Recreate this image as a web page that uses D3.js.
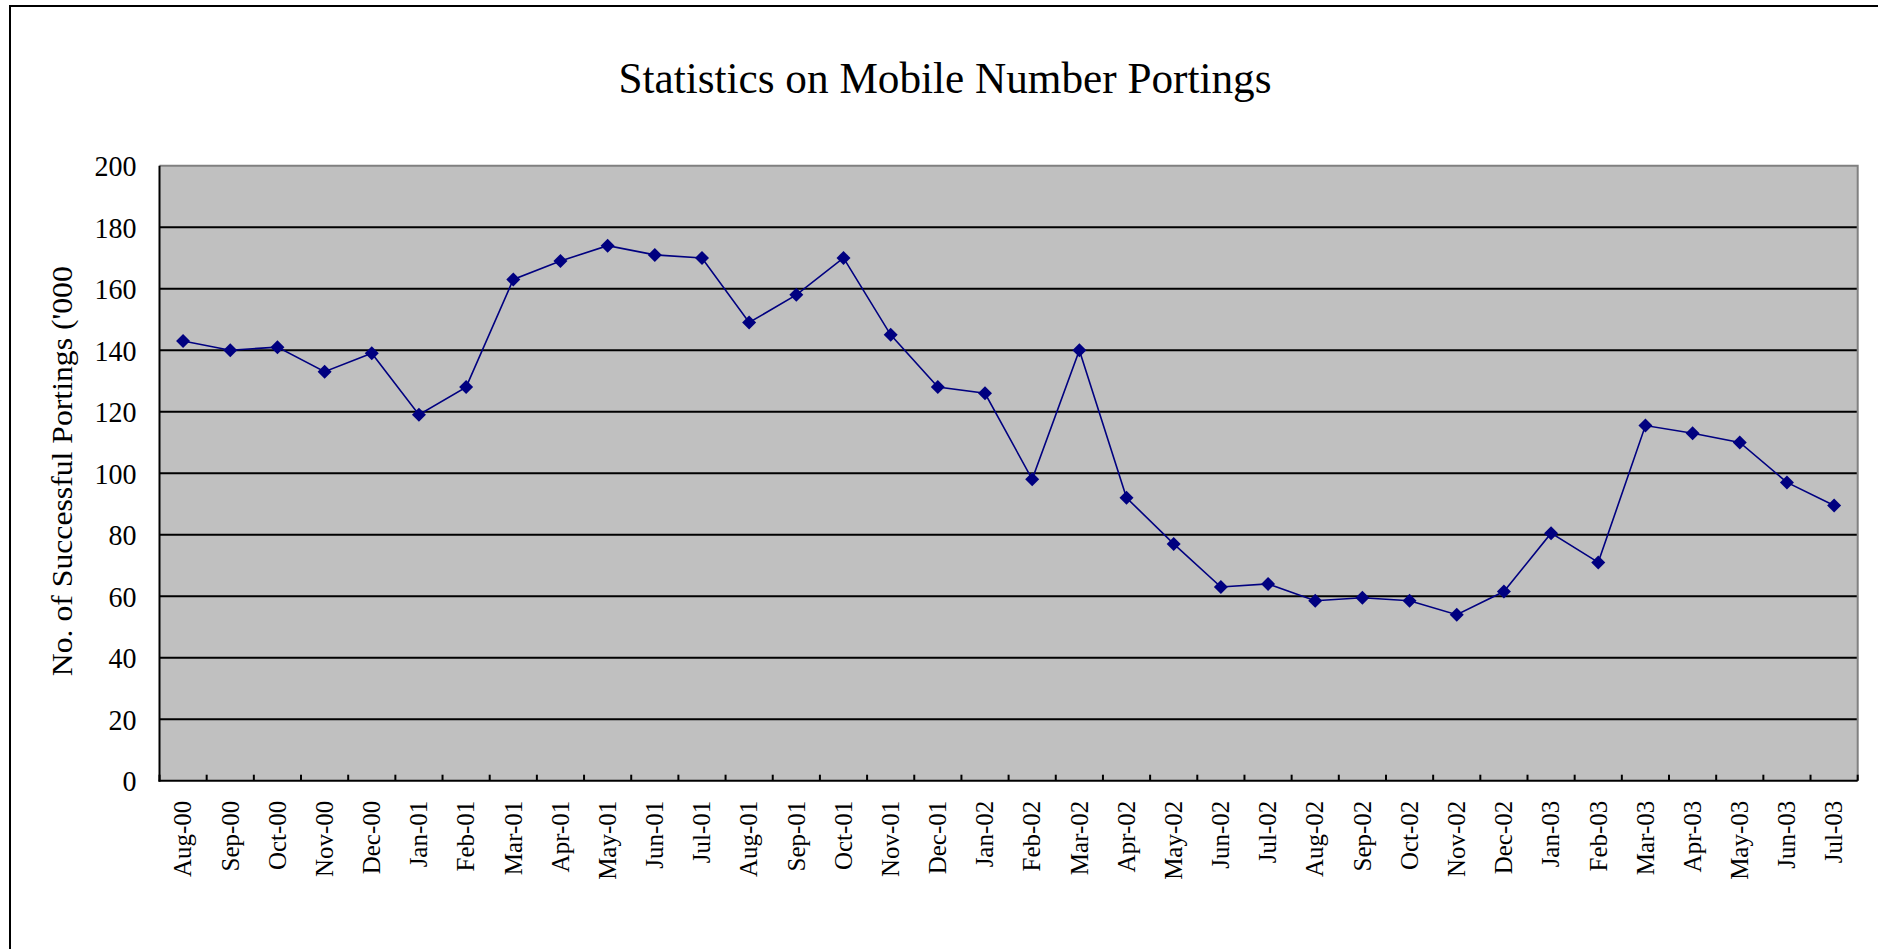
<!DOCTYPE html>
<html>
<head>
<meta charset="utf-8">
<script src="https://cdn.jsdelivr.net/npm/d3@7"></script>
<style>
  html, body { margin: 0; padding: 0; background: #fff; }
  svg { display: block; }
</style>
</head>
<body>
<svg id="chart" width="1878" height="949"></svg>
<script>
const categories = ["Aug-00","Sep-00","Oct-00","Nov-00","Dec-00","Jan-01","Feb-01","Mar-01","Apr-01","May-01","Jun-01","Jul-01",
  "Aug-01","Sep-01","Oct-01","Nov-01","Dec-01","Jan-02","Feb-02","Mar-02","Apr-02","May-02","Jun-02","Jul-02",
  "Aug-02","Sep-02","Oct-02","Nov-02","Dec-02","Jan-03","Feb-03","Mar-03","Apr-03","May-03","Jun-03","Jul-03"];
const portings = [143,140,141,133,139,119,128,163,169,174,171,170,
  149,158,170,145,128,126,98,140,92,77,63,64,
  58.5,59.5,58.5,54,61.5,80.5,71,115.5,113,110,97,89.5];
const yTicks = [0,20,40,60,80,100,120,140,160,180,200];
const titleText = "Statistics on Mobile Number Portings";
const yTitle = "No. of Successful Portings ('000";

const svg = d3.select("#chart");
const L = 159.5, T = 165.7, R = 1857.7, B = 780.7;
const serif = "'Liberation Serif', 'Times New Roman', serif";

// outer chart border
svg.append("path")
  .attr("d", "M10,960 L10,6 L1890,6")
  .attr("fill", "none").attr("stroke", "#000").attr("stroke-width", 2);

const x = d3.scaleBand().domain(categories).range([L, R]).padding(0);
const y = d3.scaleLinear().domain([0, 200]).range([B, T]);

// plot background
svg.append("rect").attr("x", L).attr("y", T).attr("width", R - L).attr("height", B - T)
  .attr("fill", "#c0c0c0");

// gridlines
svg.append("g").selectAll("line").data(yTicks.filter(d => d > 0 && d < 200)).join("line")
  .attr("x1", L).attr("x2", R).attr("y1", d => y(d)).attr("y2", d => y(d))
  .attr("stroke", "#000").attr("stroke-width", 2);

// top/right gray border
svg.append("path").attr("d", `M${L},${T} L${R},${T} L${R},${B}`)
  .attr("fill", "none").attr("stroke", "#808080").attr("stroke-width", 2);

// x tick marks (inward, at category boundaries)
const bounds = d3.range(categories.length + 1).map(i => L + i * x.bandwidth());
svg.append("g").selectAll("line").data(bounds).join("line")
  .attr("x1", d => d).attr("x2", d => d).attr("y1", B).attr("y2", B - 6)
  .attr("stroke", "#000").attr("stroke-width", 2);

// axes lines
svg.append("line").attr("x1", L).attr("x2", L).attr("y1", T).attr("y2", B + 1)
  .attr("stroke", "#000").attr("stroke-width", 2);
svg.append("line").attr("x1", L - 1).attr("x2", R).attr("y1", B).attr("y2", B)
  .attr("stroke", "#000").attr("stroke-width", 2);

// y axis labels
const yAxis = svg.append("g").attr("transform", `translate(${L},0)`)
  .call(d3.axisLeft(y).tickValues(yTicks).tickSize(0).tickPadding(23));
yAxis.select(".domain").remove();
yAxis.selectAll("text")
  .attr("font-family", serif).attr("font-size", 30).attr("fill", "#000")
  .attr("dy", "0.34em")
  .attr("textLength", d => String(d).length * 14)
  .attr("lengthAdjust", "spacingAndGlyphs");

// x axis labels
const xAxis = svg.append("g").attr("transform", `translate(0,${B})`)
  .call(d3.axisBottom(x).tickSize(0));
xAxis.select(".domain").remove();
xAxis.selectAll("text")
  .attr("font-family", serif).attr("font-size", 25).attr("fill", "#000")
  .attr("text-anchor", "end")
  .attr("transform", "rotate(-90)")
  .attr("x", -20).attr("y", 0).attr("dy", "0.33em");

// line
const line = d3.line().x((d, i) => x(categories[i]) + x.bandwidth() / 2).y(d => y(d));
svg.append("path").datum(portings).attr("d", line)
  .attr("fill", "none").attr("stroke", "#000080").attr("stroke-width", 1.6);

// diamond markers
const s = 7;
svg.append("g").selectAll("path").data(portings).join("path")
  .attr("transform", (d, i) => `translate(${x(categories[i]) + x.bandwidth() / 2},${y(d)})`)
  .attr("d", `M0,${-s} L${s},0 L0,${s} L${-s},0 Z`)
  .attr("fill", "#000080");

// title
svg.append("text").attr("x", 945).attr("y", 93).attr("text-anchor", "middle")
  .attr("font-family", serif).attr("font-size", 44).attr("fill", "#000")
  .attr("textLength", 653).attr("lengthAdjust", "spacingAndGlyphs")
  .text(titleText);

// y title
svg.append("text")
  .attr("transform", `translate(72,${(T + B) / 2 - 2}) rotate(-90)`)
  .attr("text-anchor", "middle")
  .attr("font-family", serif).attr("font-size", 30).attr("fill", "#000")
  .attr("textLength", 410).attr("lengthAdjust", "spacingAndGlyphs")
  .text(yTitle);
</script>
</body>
</html>
